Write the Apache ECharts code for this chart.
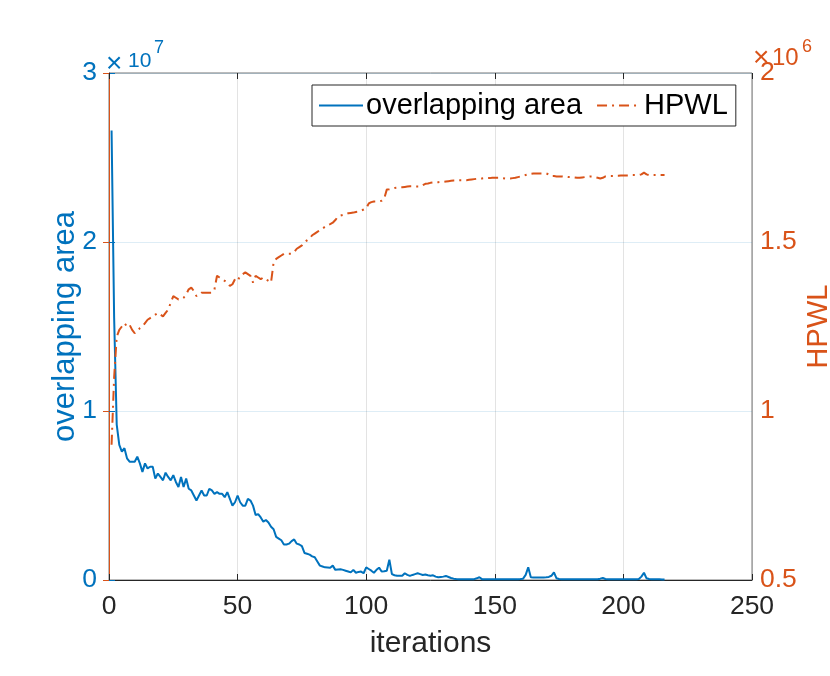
<!DOCTYPE html>
<html lang="en">
<head>
    <meta charset="UTF-8">
    <title>overlapping area / HPWL</title>
    <script src="https://cdn.jsdelivr.net/npm/echarts@6/dist/echarts.min.js"></script>
    <style>
        html, body { margin: 0; padding: 0; background: #fff; }
        #main { width: 830px; height: 676px; }
    </style>
</head>
<body>
<div id="main"></div>

<script type="text/javascript">
    // overlapping area per iteration, in units of 1e7 (iterations 1..216)
    var overlapArea = [
        2.66, 1.55, 0.92, 0.80, 0.76, 0.78, 0.72, 0.70, 0.70, 0.70,
        0.73, 0.69, 0.64, 0.69, 0.66, 0.67, 0.67, 0.60, 0.63, 0.61,
        0.59, 0.635, 0.61, 0.59, 0.62, 0.58, 0.55, 0.61, 0.55, 0.60,
        0.54, 0.53, 0.50, 0.47, 0.50, 0.53, 0.50, 0.50, 0.54, 0.53,
        0.51, 0.52, 0.51, 0.51, 0.49, 0.52, 0.48, 0.44, 0.46, 0.50,
        0.46, 0.44, 0.44, 0.48, 0.47, 0.44, 0.385, 0.39, 0.37, 0.345,
        0.355, 0.34, 0.315, 0.30, 0.255, 0.245, 0.235, 0.21, 0.21, 0.215,
        0.23, 0.24, 0.215, 0.21, 0.20, 0.16, 0.155, 0.15, 0.14, 0.135,
        0.11, 0.085, 0.08, 0.075, 0.074, 0.073, 0.085, 0.06, 0.062, 0.063,
        0.06, 0.055, 0.05, 0.045, 0.06, 0.043, 0.048, 0.05, 0.04, 0.075,
        0.065, 0.055, 0.043, 0.06, 0.073, 0.05, 0.052, 0.055, 0.12, 0.035,
        0.028, 0.025, 0.025, 0.025, 0.04, 0.03, 0.024, 0.03, 0.035, 0.04,
        0.035, 0.03, 0.032, 0.028, 0.025, 0.028, 0.02, 0.016, 0.018, 0.02,
        0.024, 0.018, 0.012, 0.008, 0.006, 0.005, 0.005, 0.004, 0.005, 0.004,
        0.004, 0.005, 0.01, 0.016, 0.005, 0.004, 0.004, 0.004, 0.004, 0.004,
        0.004, 0.004, 0.004, 0.004, 0.005, 0.004, 0.004, 0.004, 0.005, 0.006,
        0.008, 0.03, 0.075, 0.016, 0.015, 0.015, 0.015, 0.015, 0.015, 0.016,
        0.018, 0.025, 0.045, 0.01, 0.006, 0.005, 0.005, 0.004, 0.004, 0.004,
        0.004, 0.004, 0.004, 0.004, 0.004, 0.004, 0.004, 0.004, 0.005, 0.005,
        0.008, 0.012, 0.006, 0.005, 0.005, 0.004, 0.004, 0.004, 0.004, 0.004,
        0.004, 0.004, 0.004, 0.004, 0.004, 0.006, 0.02, 0.043, 0.01, 0.006,
        0.005, 0.005, 0.004, 0.004, 0.003, 0.003
    ];

    // HPWL per iteration, in units of 1e6 (iterations 1..216)
    var hpwl = [
        0.90, 1.10, 1.22, 1.24, 1.25, 1.26, 1.25, 1.255, 1.24, 1.23,
        1.235, 1.245, 1.25, 1.26, 1.27, 1.275, 1.28, 1.285, 1.29, 1.285,
        1.28, 1.29, 1.30, 1.32, 1.34, 1.335, 1.33, 1.33, 1.335, 1.345,
        1.36, 1.365, 1.355, 1.34, 1.345, 1.35, 1.35, 1.35, 1.35, 1.35,
        1.36, 1.40, 1.395, 1.39, 1.385, 1.38, 1.37, 1.375, 1.39, 1.385,
        1.40, 1.405, 1.41, 1.405, 1.40, 1.38, 1.40, 1.395, 1.39, 1.395,
        1.39, 1.385, 1.38, 1.44, 1.45, 1.455, 1.46, 1.465, 1.465, 1.465,
        1.465, 1.47, 1.48, 1.485, 1.49, 1.50, 1.505, 1.51, 1.52, 1.525,
        1.53, 1.535, 1.54, 1.545, 1.55, 1.553, 1.557, 1.565, 1.575, 1.578,
        1.58, 1.582, 1.585, 1.586, 1.587, 1.589, 1.59, 1.593, 1.596, 1.60,
        1.614, 1.618, 1.62, 1.62, 1.62, 1.622, 1.628, 1.655, 1.656, 1.658,
        1.66, 1.661, 1.662, 1.662, 1.663, 1.664, 1.665, 1.665, 1.664, 1.664,
        1.664, 1.668, 1.672, 1.673, 1.675, 1.676, 1.677, 1.677, 1.678, 1.678,
        1.679, 1.68, 1.681, 1.682, 1.682, 1.683, 1.683, 1.683, 1.683, 1.684,
        1.685, 1.686, 1.687, 1.688, 1.688, 1.689, 1.689, 1.689, 1.69, 1.69,
        1.69, 1.69, 1.689, 1.688, 1.688, 1.688, 1.689, 1.69, 1.692, 1.694,
        1.696, 1.698, 1.70, 1.702, 1.703, 1.703, 1.703, 1.703, 1.703, 1.703,
        1.70, 1.695, 1.695, 1.694, 1.694, 1.694, 1.693, 1.693, 1.692, 1.692,
        1.691, 1.69, 1.69, 1.691, 1.692, 1.693, 1.694, 1.694, 1.692, 1.69,
        1.688, 1.69, 1.694, 1.695, 1.695, 1.695, 1.696, 1.696, 1.697, 1.697,
        1.697, 1.697, 1.698, 1.698, 1.698, 1.698, 1.70, 1.705, 1.70, 1.698,
        1.698, 1.698, 1.698, 1.698, 1.698, 1.698
    ];

    var xTicks = [0, 250, 50];        // min, max, step
    var leftTicks = [0, 3, 1];        // x1e7
    var rightTicks = [0.5, 2, 0.5];   // x1e6

    var blue = '#0072BD';
    var orange = '#D95319';
    var dark = '#262626';
    var font = 'Liberation Sans, Helvetica, Arial, sans-serif';

    function toPairs(arr) {
        return arr.map(function (v, i) { return [i + 1, v]; });
    }

    // small text piece for the "x10^n" axis exponents
    function txt(str, left, top, size, color) {
        return {
            type: 'text', left: left, top: top,
            style: {text: str, fill: color, fontSize: size, fontFamily: font}
        };
    }

    var chart = echarts.init(document.getElementById('main'), null, {renderer: 'canvas'});

    var option = {
        animation: false,
        backgroundColor: '#fff',
        textStyle: {fontFamily: font},
        grid: {
            left: 109, right: 78, top: 73, bottom: 96,
            outerBoundsMode: 'none',
            containLabel: false,
            show: true, borderColor: '#777', borderWidth: 1, backgroundColor: 'transparent'
        },
        legend: {
            left: 312, top: 85,
            padding: [6, 8, 6, 6],
            itemGap: 14,
            itemWidth: 44,
            itemHeight: 14,
            borderColor: dark,
            borderWidth: 1,
            backgroundColor: '#fff',
            itemStyle: {opacity: 0},
            textStyle: {fontSize: 29, color: '#000', fontFamily: font, padding: [0, 0, 0, -2]},
            data: ['overlapping area', 'HPWL']
        },
        xAxis: [{
            type: 'value',
            min: xTicks[0], max: xTicks[1], interval: xTicks[2],
            name: 'iterations',
            nameLocation: 'middle',
            nameGap: 49,
            nameMoveOverlap: false,
            nameTextStyle: {fontSize: 30, color: dark, fontFamily: font},
            axisLine: {show: true, lineStyle: {color: dark, width: 1}},
            axisTick: {show: true, inside: true, length: 6, lineStyle: {color: dark}},
            axisLabel: {fontSize: 26.5, color: dark, margin: 13, fontFamily: font},
            splitLine: {show: true, lineStyle: {color: 'rgba(38,38,38,0.13)', width: 1}}
        }, {
            type: 'value',
            position: 'top',
            min: xTicks[0], max: xTicks[1], interval: xTicks[2],
            axisLine: {show: false},
            axisTick: {show: true, inside: true, length: 6, lineStyle: {color: dark}},
            axisLabel: {show: false},
            splitLine: {show: false}
        }],
        yAxis: [{
            type: 'value',
            position: 'left',
            min: leftTicks[0], max: leftTicks[1], interval: leftTicks[2],
            name: 'overlapping area',
            nameLocation: 'middle',
            nameGap: 28,
            nameMoveOverlap: false,
            nameTextStyle: {fontSize: 31, color: blue, fontFamily: font},
            axisLine: {show: true, lineStyle: {color: blue, width: 1}},
            axisTick: {show: true, inside: true, length: 6, lineStyle: {color: blue}},
            axisLabel: {fontSize: 26.5, color: blue, margin: 12, fontFamily: font},
            splitLine: {show: true, lineStyle: {color: 'rgba(0,114,189,0.13)', width: 1}}
        }, {
            type: 'value',
            position: 'right',
            min: rightTicks[0], max: rightTicks[1], interval: rightTicks[2],
            name: 'HPWL',
            nameLocation: 'middle',
            nameGap: 52,
            nameRotate: 90,
            nameMoveOverlap: false,
            nameTextStyle: {fontSize: 29, color: orange, fontFamily: font},
            axisLine: {show: true, lineStyle: {color: orange, width: 1}},
            axisTick: {show: true, inside: true, length: 6, lineStyle: {color: orange}},
            axisLabel: {fontSize: 26.5, color: orange, margin: 8, fontFamily: font},
            splitLine: {show: false}
        }],
        graphic: [
            txt('×', 106, 50, 28, blue),
            txt('10', 128, 51, 21, blue),
            txt('7', 154, 39, 18, blue),
            txt('×', 753, 44, 28, orange),
            txt('10', 772, 46, 24, orange),
            txt('6', 802, 38, 18, orange)
        ],
        series: [{
            name: 'overlapping area',
            type: 'line',
            yAxisIndex: 0,
            showSymbol: false,
            symbol: 'none',
            lineStyle: {color: blue, width: 2},
            itemStyle: {color: blue},
            data: toPairs(overlapArea)
        }, {
            name: 'HPWL',
            type: 'line',
            yAxisIndex: 1,
            showSymbol: false,
            symbol: 'none',
            lineStyle: {color: orange, width: 2, type: [10, 5, 2, 5]},
            itemStyle: {color: orange},
            data: toPairs(hpwl)
        }]
    };
    chart.setOption(option);
</script>
</body>
</html>
